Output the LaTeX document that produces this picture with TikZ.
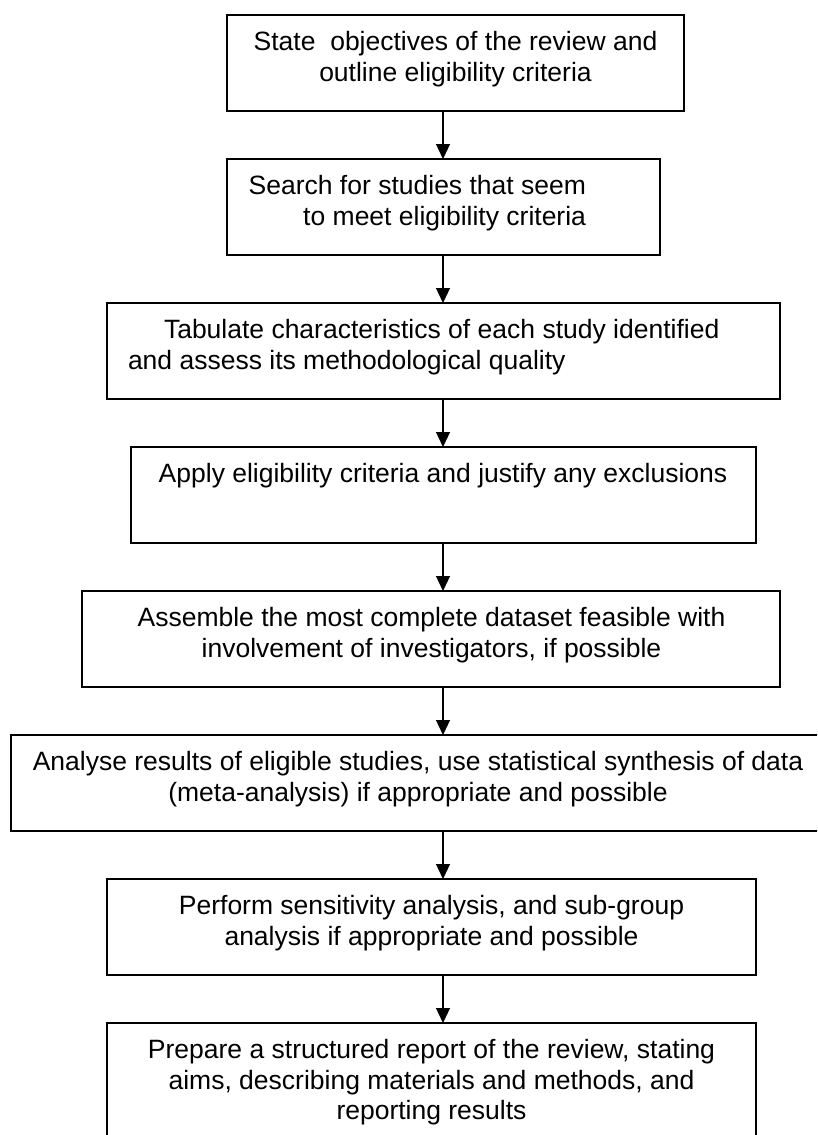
\documentclass[tikz,border=0pt]{standalone}
\usepackage{fontspec}
\setmainfont{Liberation Sans}
\usetikzlibrary{arrows.meta}
\tikzset{
  stepbox/.style={draw=black, line width=1.7pt, fill=none, inner sep=0pt, outer sep=0pt, minimum height=96pt},
  txt/.style={inner sep=0pt, outer sep=0pt, font=\fontsize{26.5}{30.5}\selectfont},
  arr/.style={line width=1.2pt, -{Triangle[width=14pt,length=15pt]}}
}
\begin{document}
\begin{tikzpicture}[x=1pt,y=-1pt]
\clip (0,0) rectangle (817,1135);
\fill[white] (0,0) rectangle (817,1135);
\coordinate (ax) at (443,0);
% boxes
\node[stepbox, minimum width=457pt] (b1) at (455.5,63) {};
\node[stepbox, minimum width=433pt] (b2) at (443.5,207) {};
\node[stepbox, minimum width=673pt] (b3) at (443.5,351) {};
\node[stepbox, minimum width=625pt] (b4) at (443.5,495) {};
\node[stepbox, minimum width=698pt] (b5) at (431,639) {};
\node[stepbox, minimum width=814pt] (b6) at (418,783) {};
\node[stepbox, minimum width=649pt] (b7) at (431.5,927) {};
\node[stepbox, minimum width=649pt, minimum height=122pt] (b8) at (431.5,1084) {};
% texts (base anchor = baseline of the last line)
\node[txt, align=center, anchor=base] (t1) at (455.5,81) {State\ \ objectives of the review and\\outline eligibility criteria};
\node[txt, align=right, anchor=base east] (t2) at (586,225) {Search for studies that seem\\to meet eligibility criteria};
\node[txt, align=left, anchor=base west] (t3) at (128,369) {\hspace*{36pt}Tabulate characteristics of each study identified\\and assess its methodological quality};
\node[txt, align=center, anchor=base] (t4) at (443,482.5) {Apply eligibility criteria and justify any exclusions};
\node[txt, align=center, anchor=base] (t5) at (431.5,657) {Assemble the most complete dataset feasible with\\involvement of investigators, if possible};
\node[txt, align=center, anchor=base] (t6) at (418,801) {Analyse results of eligible studies, use statistical synthesis of data\\(meta-analysis) if appropriate and possible};
\node[txt, align=center, anchor=base] (t7) at (431.5,945) {Perform sensitivity analysis, and sub-group\\analysis if appropriate and possible};
\node[txt, align=center, anchor=base] (t8) at (431.5,1119.5) {Prepare a structured report of the review, stating\\aims, describing materials and methods, and\\reporting results};
% arrows
\draw[arr] (b1.south -| ax) -- (b2.north -| ax);
\draw[arr] (b2.south -| ax) -- (b3.north -| ax);
\draw[arr] (b3.south -| ax) -- (b4.north -| ax);
\draw[arr] (b4.south -| ax) -- (b5.north -| ax);
\draw[arr] (b5.south -| ax) -- (b6.north -| ax);
\draw[arr] (b6.south -| ax) -- (b7.north -| ax);
\draw[arr] (b7.south -| ax) -- (b8.north -| ax);
\end{tikzpicture}
\end{document}
